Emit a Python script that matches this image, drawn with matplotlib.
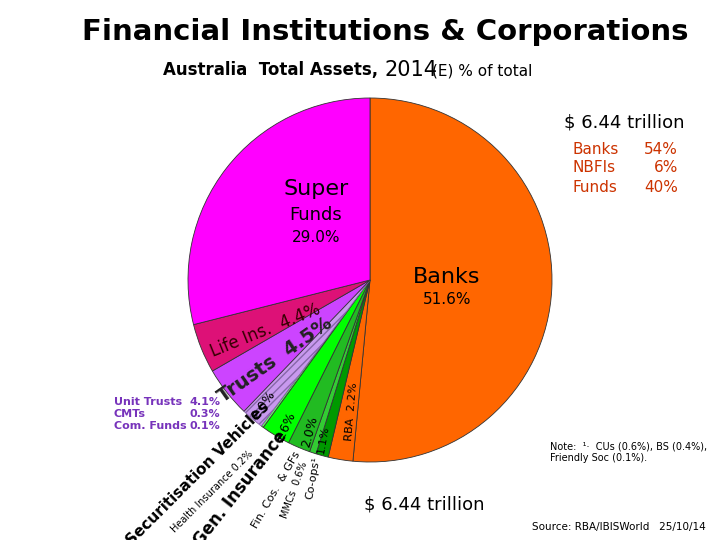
import matplotlib
matplotlib.use("Agg")
import matplotlib.pyplot as plt
import numpy as np

labels = ["Banks", "RBA", "Co-ops", "MMCs", "Fin. Cos. & GFs", "Gen. Insurance",
          "Health Insurance", "Securitisation Vehicles", "Trusts", "Life Ins.", "Super Funds"]
values = [51.6, 2.2, 1.1, 0.6, 2.0, 2.6, 0.2, 2.0, 4.5, 4.4, 29.0]
colors = ["#ff6600", "#ff6600", "#009900", "#33cc33", "#22bb22", "#00ff00",
          "#66ff66", "#c899ee", "#cc44ff", "#dd1177", "#ff00ff"]

fig = plt.figure(figsize=(7.2, 5.4), dpi=100)
r = 182
ax = fig.add_axes([(370 - r) / 720, (540 - 280 - r) / 540, 2 * r / 720, 2 * r / 540])
wedges, _ = ax.pie(values, colors=colors, startangle=90, counterclock=False,
                   wedgeprops=dict(edgecolor="#333333", linewidth=0.6))
wedges[7].set_hatch("////")
wedges[7].set_edgecolor("#8866aa")
ax.set_xlim(-1, 1)
ax.set_ylim(-1, 1)
ax.set_aspect("equal")

def ft(x, y, s, **kw):
    fig.text(x / 720, 1 - y / 540, s, **kw)

ft(385, 32, "Financial Institutions & Corporations", fontsize=21, fontweight="bold", ha="center", va="center")
ft(378, 70, "Australia  Total Assets,", fontsize=12, fontweight="bold", ha="right", va="center")
ft(385, 70, "2014", fontsize=15, ha="left", va="center")
ft(432, 71, "(E) % of total", fontsize=11, ha="left", va="center")
ft(684, 123, "$ 6.44 trillion", fontsize=13, ha="right", va="center")
for i, (a, b) in enumerate([("Banks", "54%"), ("NBFIs", "6%"), ("Funds", "40%")]):
    ft(573, 149 + i * 19, a, fontsize=11, color="#cc3300", ha="left", va="center")
    ft(678, 149 + i * 19, b, fontsize=11, color="#cc3300", ha="right", va="center")
ft(316, 189, "Super", fontsize=16, ha="center", va="center")
ft(316, 215, "Funds", fontsize=13, ha="center", va="center")
ft(316, 238, "29.0%", fontsize=11, ha="center", va="center")
ft(447, 277, "Banks", fontsize=16, ha="center", va="center")
ft(447, 300, "51.6%", fontsize=11, ha="center", va="center")
ft(265, 330, "Life Ins.  4.4%", fontsize=12, rotation=22, ha="center", va="center", color="#330000")
ft(275, 360, "Trusts  4.5%", fontsize=14, fontweight="bold", rotation=35, ha="center", va="center", color="#222222")
ft(263, 405, "2.0%", fontsize=9, rotation=55, ha="center", va="center")
ft(286, 427, "2.6%", fontsize=9, rotation=65, ha="center", va="center")
ft(310, 432, "2.0%", fontsize=9, rotation=75, ha="center", va="center")
ft(323, 440, "1.1%", fontsize=8, rotation=80, ha="center", va="center")
ft(352, 412, "RBA  2.2%", fontsize=8, rotation=85, ha="center", va="center")
ft(114, 414, "Unit Trusts\nCMTs\nCom. Funds", fontsize=8, fontweight="bold", color="#7733bb", ha="left", va="center", linespacing=1.25)
ft(220, 414, "4.1%\n0.3%\n0.1%", fontsize=8, fontweight="bold", color="#7733bb", ha="right", va="center", linespacing=1.25)
ft(198, 474, "Securitisation Vehicles", fontsize=11, fontweight="bold", rotation=45, ha="center", va="center")
ft(212, 492, "Health Insurance 0.2%", fontsize=7, rotation=45, ha="center", va="center")
ft(240, 488, "Gen. Insurance", fontsize=12, fontweight="bold", rotation=52, ha="center", va="center")
ft(276, 490, "Fin. Cos.  & GFs", fontsize=8, rotation=60, ha="center", va="center")
ft(294, 490, "MMCs  0.6%", fontsize=7, rotation=70, ha="center", va="center")
ft(313, 478, "Co-ops¹", fontsize=8, rotation=80, ha="center", va="center")
ft(424, 505, "$ 6.44 trillion", fontsize=13, ha="center", va="center")
ft(550, 452, "Note:  ¹·  CUs (0.6%), BS (0.4%),\nFriendly Soc (0.1%).", fontsize=7, ha="left", va="center")
ft(706, 527, "Source: RBA/IBISWorld   25/10/14", fontsize=7.5, ha="right", va="center")
fig.savefig("out.png", dpi=100)
